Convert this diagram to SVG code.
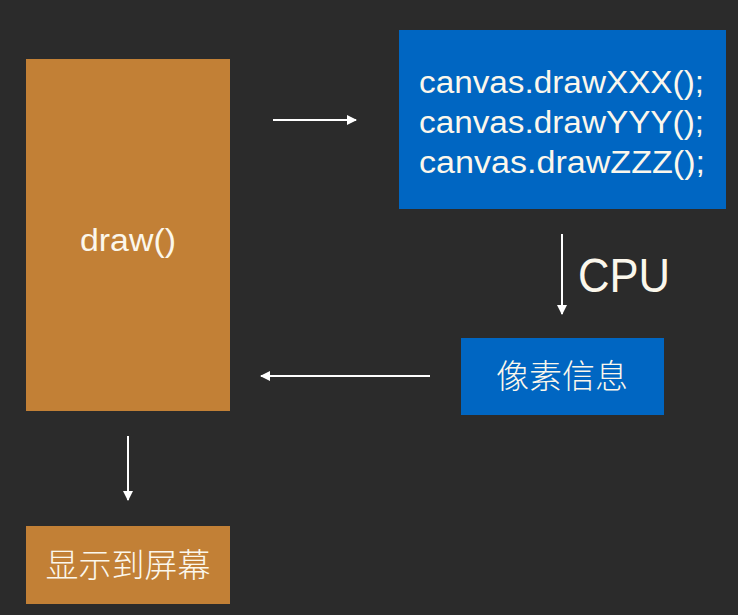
<svg xmlns="http://www.w3.org/2000/svg" width="738" height="615" viewBox="0 0 738 615">
<style>
.orange{fill:#c28036}
.blue{fill:#0066c2}
.t{font-family:"Liberation Sans",Arial,sans-serif;fill:#fbf7ec}
.cjk{font-family:"Noto Sans CJK SC","Liberation Sans",sans-serif;font-weight:300;fill:#fbf7ec}
.ln{stroke:#ffffff;stroke-width:2;fill:none}
</style>
<defs>
<marker id="ah" viewBox="0 0 10 10" refX="9" refY="5" markerWidth="10" markerHeight="10" markerUnits="userSpaceOnUse" orient="auto">
<path d="M0,0 L10,5 L0,10 Z" fill="#ffffff"/>
</marker>
</defs>
<rect width="738" height="615" fill="#2b2b2b"/>
<g id="draw">
<rect class="orange" x="26" y="59" width="204" height="352"/>
<text class="t" x="128" y="251" font-size="31" text-anchor="middle" textLength="96" lengthAdjust="spacingAndGlyphs">draw()</text>
</g>
<g id="canvas">
<rect class="blue" x="399" y="30" width="327" height="179"/>
<text class="t" x="419" y="93" font-size="31" textLength="285" lengthAdjust="spacingAndGlyphs">canvas.drawXXX();</text>
<text class="t" x="419" y="133" font-size="31" textLength="285" lengthAdjust="spacingAndGlyphs">canvas.drawYYY();</text>
<text class="t" x="419" y="173" font-size="31" textLength="286" lengthAdjust="spacingAndGlyphs">canvas.drawZZZ();</text>
</g>
<g id="pixel">
<rect class="blue" x="461" y="338" width="203" height="77"/>
<text class="cjk" x="562" y="388" font-size="33" text-anchor="middle">像素信息</text>
</g>
<g id="screen">
<rect class="orange" x="26" y="526" width="204" height="78"/>
<text class="cjk" x="128" y="577" font-size="33" text-anchor="middle">显示到屏幕</text>
</g>
<g id="connectors">
<line class="ln" x1="273" y1="120" x2="356" y2="120" marker-end="url(#ah)"/>
<line class="ln" x1="562" y1="234" x2="562" y2="314" marker-end="url(#ah)"/>
<line class="ln" x1="430" y1="376" x2="261" y2="376" marker-end="url(#ah)"/>
<line class="ln" x1="128" y1="436" x2="128" y2="500" marker-end="url(#ah)"/>
<text class="t" x="578" y="292" font-size="48" textLength="92" lengthAdjust="spacingAndGlyphs">CPU</text>
</g>
</svg>
